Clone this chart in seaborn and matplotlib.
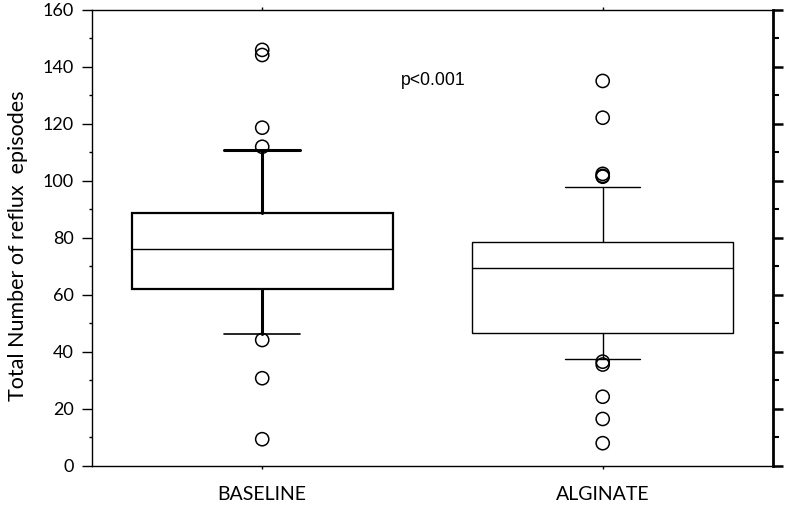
import matplotlib
matplotlib.use("Agg")
import pandas as pd
import seaborn as sns
import matplotlib.pyplot as plt
from matplotlib.ticker import MultipleLocator

# Values
groups = ["BASELINE", "ALGINATE"]
q1 = [62.1, 46.8]
median = [76.0, 69.4]
q3 = [88.7, 78.7]
whisker_low = [46.2, 37.5]
whisker_high = [110.9, 98.0]
baseline_outliers = [146.0, 144.2, 118.7, 112.0, 44.2, 30.8, 9.4]
alginate_outliers = [135.1, 122.2, 102.5, 101.8, 101.5, 36.6, 35.6, 24.3, 16.5, 8.0]
p_label = "p<0.001"
y_label = "Total Number of reflux  episodes"

sns.set_style("ticks", {"axes.edgecolor": "black", "xtick.color": "black",
                        "ytick.color": "black", "text.color": "black",
                        "axes.labelcolor": "black"})
plt.rcParams["font.family"] = ["Lato", "DejaVu Sans"]

fig = plt.figure(figsize=(7.86, 5.09), dpi=100)
ax = fig.add_axes([0.117, 0.0845, 0.8664, 0.8959])

stats = [
    dict(label=g, q1=a, med=m, q3=b, whislo=lo, whishi=hi, fliers=[])
    for g, a, m, b, lo, hi in zip(groups, q1, median, q3, whisker_low, whisker_high)
]

# baseline box is drawn with heavier strokes than the alginate one
box_lw = [1.6, 1.0]
whisk_lw = [2.2, 1.0]
for i, st in enumerate(stats):
    parts = ax.bxp(
        [st], positions=[i], widths=0.766, capwidths=0.222,
        showfliers=False, patch_artist=True, manage_ticks=False,
        boxprops=dict(facecolor="white", edgecolor="black", linewidth=box_lw[i]),
        medianprops=dict(color="black", linewidth=1.0),
        whiskerprops=dict(color="black", linewidth=whisk_lw[i]),
        capprops=dict(color="black", linewidth=whisk_lw[i]),
    )
    if i == 0:
        parts["caps"][0].set_linewidth(1.2)

out_df = pd.DataFrame({
    "group": [0] * len(baseline_outliers) + [1] * len(alginate_outliers),
    "value": baseline_outliers + alginate_outliers,
})
sns.scatterplot(data=out_df, x="group", y="value", color="black", s=90,
                linewidth=1.1, ax=ax, zorder=3, legend=False)
pts = ax.collections[-1]
pts.set_facecolor("none")
pts.set_edgecolor("black")

ax.set_xlim(-0.5, 1.5)
ax.set_ylim(0, 160)
ax.set_xticks([0, 1])
ax.set_xticklabels(groups)
ax.yaxis.set_major_locator(MultipleLocator(20))
ax.yaxis.set_minor_locator(MultipleLocator(10))

ax.tick_params(axis="y", which="major", direction="out", length=7, width=1,
               labelsize=13, pad=6)
ax.tick_params(axis="y", which="minor", direction="out", length=2, width=1)
ax.tick_params(axis="x", which="major", direction="out", length=2.5, width=1,
               top=True, labelsize=14, pad=12)
ax.tick_params(axis="x", which="minor", bottom=False, top=False)
for s in ["left", "top", "bottom"]:
    ax.spines[s].set_linewidth(1.0)
ax.spines["right"].set_visible(False)

ax.set_xlabel("")
ax.set_ylabel(y_label, fontsize=15.5)
ax.yaxis.set_label_coords(-0.094, 0.482)

ax.text(0.503, 135.4, p_label, ha="center", va="center", fontsize=12.7,
        family="Liberation Sans")

# right axis: heavier spine with its own tick marks
ax2 = ax.twinx()
ax2.set_ylim(0, 160)
ax2.yaxis.set_major_locator(MultipleLocator(20))
ax2.yaxis.set_minor_locator(MultipleLocator(10))
ax2.tick_params(axis="y", which="major", direction="out", length=7, width=1.8,
                labelright=False)
ax2.tick_params(axis="y", which="minor", direction="out", length=4.5, width=1.5)
for s in ["left", "top", "bottom"]:
    ax2.spines[s].set_visible(False)
ax2.spines["right"].set_linewidth(2.0)

fig.savefig("out.png", dpi=100)
